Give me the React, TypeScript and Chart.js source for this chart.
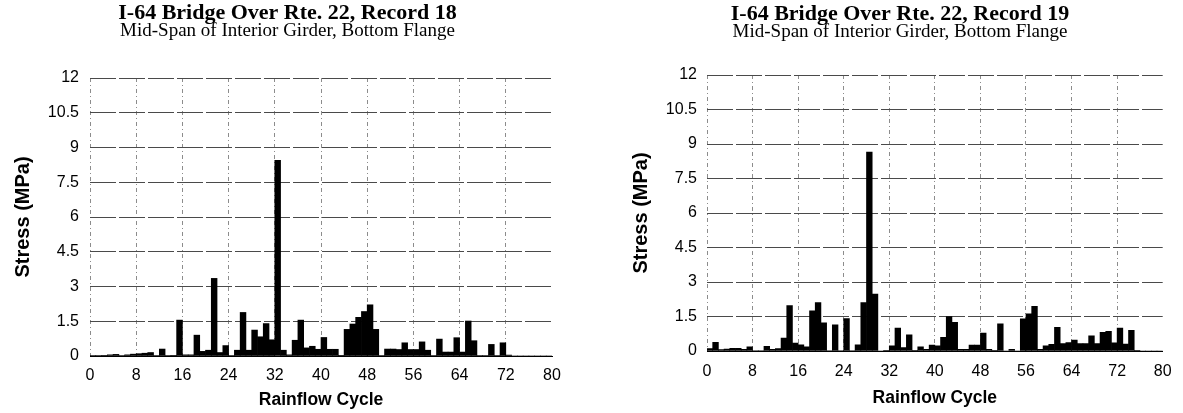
import React, { useEffect, useRef } from "react";
import { Chart, registerables } from "chart.js";

Chart.register(...registerables);

// Rainflow cycle bins (cycle n occupies the interval [n-1, n] on the axis)
const cycles = [
  1, 2, 3, 4, 5, 6, 7, 8, 9, 10, 11, 12, 13, 14, 15, 16, 17, 18, 19, 20,
  21, 22, 23, 24, 25, 26, 27, 28, 29, 30, 31, 32, 33, 34, 35, 36, 37, 38, 39, 40,
  41, 42, 43, 44, 45, 46, 47, 48, 49, 50, 51, 52, 53, 54, 55, 56, 57, 58, 59, 60,
  61, 62, 63, 64, 65, 66, 67, 68, 69, 70, 71, 72, 73, 74, 75, 76, 77, 78, 79, 80,
];

// Stress range (MPa), Record 18
const record18Stress = [
  0.02, 0.02, 0.03, 0.05, 0.07, 0.02, 0.05, 0.08, 0.1, 0.12,
  0.15, 0.02, 0.3, 0.02, 0.03, 1.55, 0.05, 0.05, 0.9, 0.2,
  0.25, 3.35, 0.15, 0.45, 0.02, 0.25, 1.88, 0.25, 1.12, 0.83,
  1.4, 0.7, 8.45, 0.25, 0.05, 0.68, 1.55, 0.35, 0.42, 0.29,
  0.8, 0.29, 0.29, 0.03, 1.15, 1.38, 1.67, 1.92, 2.21, 1.15,
  0.02, 0.3, 0.3, 0.28, 0.57, 0.28, 0.28, 0.61, 0.25, 0.02,
  0.73, 0.17, 0.17, 0.79, 0.17, 1.51, 0.66, 0.02, 0.02, 0.5,
  0.02, 0.57, 0.04, 0, 0, 0, 0, 0, 0, 0,
];

// Stress range (MPa), Record 19
const record19Stress = [
  0.1, 0.38, 0.06, 0.08, 0.12, 0.12, 0.07, 0.18, 0.02, 0.02,
  0.2, 0.07, 0.1, 0.56, 1.98, 0.34, 0.27, 0.18, 1.75, 2.1,
  1.23, 0.02, 1.14, 0.02, 1.41, 0.02, 0.27, 2.1, 8.65, 2.48,
  0, 0.03, 0.22, 1.0, 0.15, 0.7, 0.03, 0.18, 0.07, 0.26,
  0.22, 0.59, 1.5, 1.25, 0.07, 0.07, 0.26, 0.26, 0.78, 0.07,
  0.03, 1.18, 0, 0.07, 0, 1.4, 1.62, 1.94, 0.07, 0.22,
  0.29, 1.03, 0.32, 0.37, 0.47, 0.32, 0.32, 0.66, 0.32, 0.81,
  0.85, 0.35, 1.0, 0.3, 0.9, 0.03, 0, 0, 0, 0,
];

const xTickValues = [0, 8, 16, 24, 32, 40, 48, 56, 64, 72, 80];
const yTickValues = [0, 1.5, 3, 4.5, 6, 7.5, 9, 10.5, 12];

const title18 = "I-64 Bridge Over Rte. 22, Record 18";
const title19 = "I-64 Bridge Over Rte. 22, Record 19";
const subtitleText = "Mid-Span of Interior Girder, Bottom Flange";
const xAxisTitle = "Rainflow Cycle";
const yAxisTitle = "Stress (MPa)";

type Geo = {
  padLeft: number;
  padRight: number;
  yAxisWidth: number;
  xAxisHeight: number;
  yTitlePad: number;
  yTickPad: number;
  xTickPad: number;
  xTitlePadBottom: number;
  titlePadTop: number;
  subPadTop: number;
  subPadBottom: number;
};

function makeConfig(values: number[], titleText: string, g: Geo): any {
  const sans = "'Liberation Sans', Arial, sans-serif";
  const serif = "'Liberation Serif', 'Times New Roman', serif";
  return {
    type: "bar",
    data: {
      datasets: [
        {
          data: cycles.map((c, i) => ({ x: c - 0.5, y: values[i] })),
          backgroundColor: "#000",
          borderWidth: 0,
          barPercentage: 1,
          categoryPercentage: 1,
        },
      ],
    },
    options: {
      responsive: false,
      animation: false,
      devicePixelRatio: 1,
      layout: {
        padding: { left: g.padLeft, right: g.padRight, top: 0, bottom: 0 },
      },
      plugins: {
        legend: { display: false },
        tooltip: { enabled: false },
        title: {
          display: true,
          text: titleText,
          color: "#000",
          font: { family: serif, size: 22, weight: "bold", lineHeight: 1 },
          padding: { top: g.titlePadTop, bottom: 0 },
        },
        subtitle: {
          display: true,
          text: subtitleText,
          color: "#000",
          font: { family: serif, size: 19, weight: "normal", lineHeight: 0.7 },
          padding: { top: g.subPadTop, bottom: g.subPadBottom },
        },
      },
      scales: {
        x: {
          type: "linear",
          min: 0,
          max: 80,
          offset: false,
          afterBuildTicks: (s: any) => {
            s.ticks = xTickValues.map((v) => ({ value: v }));
          },
          afterFit: (s: any) => {
            s.height = g.xAxisHeight;
          },
          ticks: {
            color: "#000",
            autoSkip: false,
            maxRotation: 0,
            padding: g.xTickPad,
            font: { family: sans, size: 16 },
            callback: (v: any) => String(v),
          },
          grid: {
            offset: false,
            drawTicks: false,
            lineWidth: 1,
            color: (ctx: any) =>
              ctx.tick && ctx.tick.value === 80 ? "rgba(0,0,0,0)" : "rgba(0,0,0,0.45)",
          },
          border: { display: true, color: "#000", width: 1, dash: [4, 3, 1, 3] },
          title: {
            display: true,
            text: xAxisTitle,
            color: "#000",
            font: { family: sans, size: 17.5, weight: "bold", lineHeight: 1.2 },
            padding: { top: 0, bottom: g.xTitlePadBottom },
          },
        },
        y: {
          type: "linear",
          min: 0,
          max: 12,
          afterBuildTicks: (s: any) => {
            s.ticks = yTickValues.map((v) => ({ value: v }));
          },
          afterFit: (s: any) => {
            s.width = g.yAxisWidth;
          },
          ticks: {
            color: "#000",
            padding: g.yTickPad,
            font: { family: sans, size: 16 },
            callback: (v: any) => String(v),
          },
          grid: {
            drawTicks: false,
            lineWidth: 1,
            color: "#4a4a4a",
          },
          border: { display: false, dash: [26, 3] },
          title: {
            display: true,
            text: yAxisTitle,
            color: "#000",
            font: { family: sans, size: 20, weight: "bold", lineHeight: 1.2 },
            padding: { top: g.yTitlePad, bottom: 0 },
          },
        },
      },
    },
  };
}

// Left chart canvas: x 0..590. Plot 90..552, y 78..356.
const leftGeo: Geo = {
  padLeft: 23,
  padRight: 38,
  yAxisWidth: 67,
  xAxisHeight: 57,
  yTitlePad: -12,
  yTickPad: 11,
  xTickPad: 9.5,
  xTitlePadBottom: 2,
  titlePadTop: 2.5,
  subPadTop: 0,
  subPadBottom: 40.2,
};

// Right chart canvas: x 590..1183. Plot 707..1171, y 75..351.
const rightGeo: Geo = {
  padLeft: 39,
  padRight: 12,
  yAxisWidth: 78,
  xAxisHeight: 62,
  yTitlePad: 0,
  yTickPad: 10,
  xTickPad: 11.4,
  xTitlePadBottom: 4,
  titlePadTop: 3,
  subPadTop: 0,
  subPadBottom: 36.7,
};

export default function App() {
  const leftRef = useRef<HTMLCanvasElement | null>(null);
  const rightRef = useRef<HTMLCanvasElement | null>(null);

  useEffect(() => {
    const charts: Chart[] = [];
    if (leftRef.current) {
      charts.push(new Chart(leftRef.current, makeConfig(record18Stress, title18, leftGeo)));
    }
    if (rightRef.current) {
      charts.push(new Chart(rightRef.current, makeConfig(record19Stress, title19, rightGeo)));
    }
    return () => {
      charts.forEach((c) => c.destroy());
    };
  }, []);

  return (
    <div
      style={{
        position: "absolute",
        left: 0,
        top: 0,
        width: 1183,
        height: 413,
        background: "#fff",
        overflow: "hidden",
      }}
    >
      <canvas
        ref={leftRef}
        width={590}
        height={413}
        style={{ position: "absolute", left: 0, top: 0, width: 590, height: 413 }}
      />
      <canvas
        ref={rightRef}
        width={593}
        height={413}
        style={{ position: "absolute", left: 590, top: 0, width: 593, height: 413 }}
      />
    </div>
  );
}
